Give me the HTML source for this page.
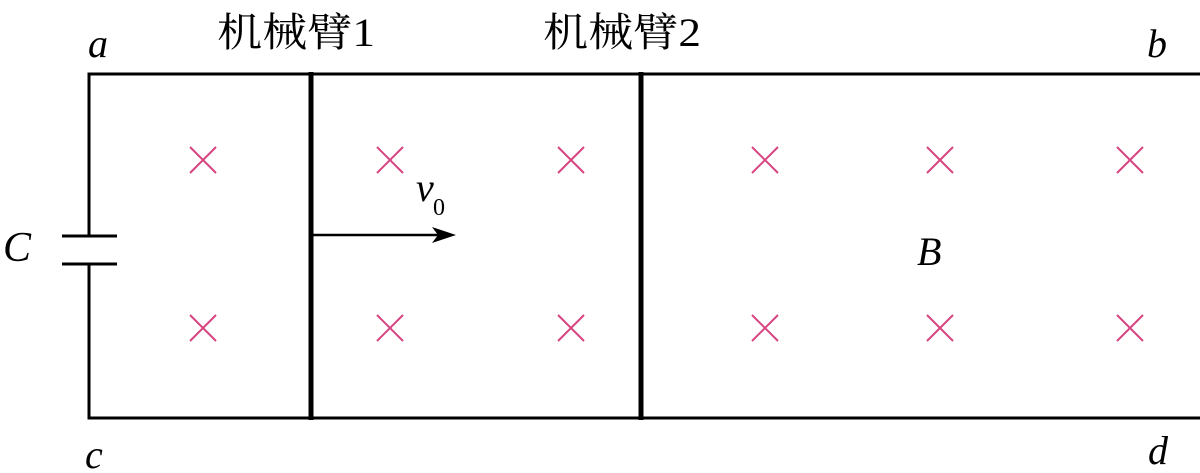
<!DOCTYPE html>
<html><head><meta charset="utf-8"><style>
html,body{margin:0;padding:0;background:#fff;width:1200px;height:473px;overflow:hidden}
</style></head><body>
<svg width="1200" height="473" xmlns="http://www.w3.org/2000/svg">
<g stroke="#000" stroke-width="3" fill="none">
<polyline points="1200,74 89,74 89,236"/>
<polyline points="89,264 89,418 1200,418"/>
<line x1="62" y1="236" x2="117" y2="236"/>
<line x1="62" y1="264" x2="117" y2="264"/>
<line x1="311" y1="72" x2="311" y2="420" stroke-width="5"/>
<line x1="641" y1="72" x2="641" y2="420" stroke-width="5"/>
<line x1="313" y1="235" x2="440" y2="235" stroke-width="2.5"/>
</g>
<polygon points="456,235 432,227 438,235 432,243" fill="#000"/>
<g stroke="#d6457f" stroke-width="2" fill="none">
<path d="M190 147l26 26M216 147l-26 26"/>
<path d="M377 147l26 26M403 147l-26 26"/>
<path d="M558 147l26 26M584 147l-26 26"/>
<path d="M752 147l26 26M778 147l-26 26"/>
<path d="M927 147l26 26M953 147l-26 26"/>
<path d="M1117 147l26 26M1143 147l-26 26"/>
<path d="M190 315l26 26M216 315l-26 26"/>
<path d="M377 315l26 26M403 315l-26 26"/>
<path d="M558 315l26 26M584 315l-26 26"/>
<path d="M752 315l26 26M778 315l-26 26"/>
<path d="M927 315l26 26M953 315l-26 26"/>
<path d="M1117 315l26 26M1143 315l-26 26"/>
</g>
<g font-family="Liberation Serif, 'Noto Serif CJK SC', serif" fill="#000">
<text x="217" y="46" font-size="40" textLength="158" lengthAdjust="spacingAndGlyphs">机械臂1</text>
<text x="543" y="46" font-size="40" textLength="158" lengthAdjust="spacingAndGlyphs">机械臂2</text>
<g font-style="italic" font-size="40">
<text x="88" y="57">a</text>
<text x="1147" y="57">b</text>
<text x="85" y="468">c</text>
<text x="1148" y="464">d</text>
<text x="3" y="261" font-size="42">C</text>
<text x="917" y="265">B</text>
<text x="416" y="201">v</text>
</g>
<text x="433" y="215" font-size="24">0</text>
</g>
</svg>
</body></html>
